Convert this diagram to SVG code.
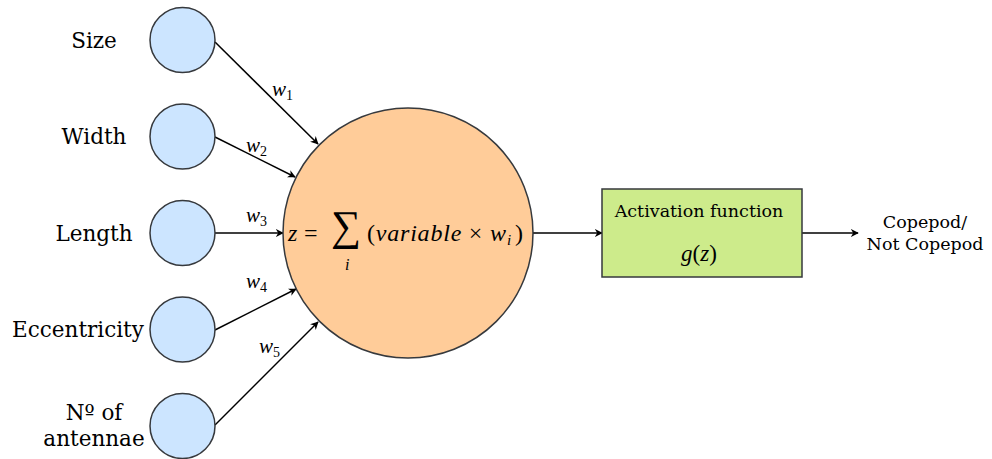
<svg xmlns="http://www.w3.org/2000/svg" width="992" height="459" viewBox="0 0 992 459">
<style>
.in{fill:#cce5ff;stroke:#36393d;stroke-width:1.5}
.lbl{font-family:"DejaVu Serif","Liberation Serif",serif;font-size:21.5px;fill:#000;text-anchor:middle}
.sm{font-family:"DejaVu Serif","Liberation Serif",serif;font-size:17.5px;fill:#000;text-anchor:middle}
.m{font-family:"Liberation Serif","DejaVu Serif",serif;font-style:italic;fill:#000}
.mr{font-family:"Liberation Serif","DejaVu Serif",serif;font-style:normal;fill:#000}
.c{stroke:#000;stroke-width:1.5;fill:none;marker-end:url(#ah)}
</style>
<defs>
<marker id="ah" viewBox="0 0 10 10" refX="9" refY="5" markerWidth="8" markerHeight="8" orient="auto" markerUnits="userSpaceOnUse">
<path d="M0,0 L10,5 L0,10 L3,5 Z" fill="#000"/>
</marker>
</defs>
<rect width="992" height="459" fill="#fff"/>
<g id="connectors">
<line class="c" x1="215" y1="42" x2="318" y2="144"/>
<line class="c" x1="215" y1="137" x2="295" y2="177"/>
<line class="c" x1="215" y1="233" x2="283" y2="233"/>
<line class="c" x1="215" y1="330" x2="296" y2="289"/>
<line class="c" x1="215" y1="425" x2="318" y2="322"/>
<line class="c" x1="533" y1="233" x2="602" y2="233"/>
<line class="c" x1="802" y1="233" x2="858" y2="233"/>
<text class="m" font-size="21" x="272" y="96">w<tspan class="mr" font-size="14" dy="4">1</tspan></text>
<text class="m" font-size="21" x="246" y="152">w<tspan class="mr" font-size="14" dy="4">2</tspan></text>
<text class="m" font-size="21" x="246" y="222">w<tspan class="mr" font-size="14" dy="4">3</tspan></text>
<text class="m" font-size="21" x="246" y="288">w<tspan class="mr" font-size="14" dy="4">4</tspan></text>
<text class="m" font-size="21" x="259" y="353">w<tspan class="mr" font-size="14" dy="4">5</tspan></text>
</g>
<g id="in-size"><circle class="in" cx="182.5" cy="40" r="32.5"/><text class="lbl" x="94" y="48">Size</text></g>
<g id="in-width"><circle class="in" cx="182.5" cy="136.5" r="32.5"/><text class="lbl" x="94" y="144">Width</text></g>
<g id="in-length"><circle class="in" cx="182.5" cy="233" r="32.5"/><text class="lbl" x="94" y="241">Length</text></g>
<g id="in-ecc"><circle class="in" cx="182.5" cy="329.5" r="32.5"/><text class="lbl" x="78" y="337">Eccentricity</text></g>
<g id="in-ant"><circle class="in" cx="182.5" cy="426" r="32.5"/><text class="lbl" x="94" y="420">Nº of</text><text class="lbl" x="94" y="446">antennae</text></g>
<g id="sum">
<circle cx="408" cy="233" r="125" fill="#ffcc99" stroke="#36393d" stroke-width="1.5"/>
<text class="m" font-size="24" x="288" y="241">z</text>
<text class="mr" font-size="24" x="304" y="241">=</text>
<text class="mr" font-size="42" x="331" y="240">∑</text>
<text class="m" font-size="16" x="345" y="270">i</text>
<text class="m" font-size="24" x="367" y="241" textLength="139"><tspan class="mr">(</tspan>variable <tspan class="mr">×</tspan> w</text>
<text class="m" font-size="15" x="507" y="245">i</text>
<text class="mr" font-size="24" x="515" y="241">)</text>
</g>
<g id="activation">
<rect x="602" y="189" width="200" height="88" fill="#cdeb8b" stroke="#36393d" stroke-width="1.5"/>
<text class="sm" x="699" y="217">Activation function</text>
<text class="m" font-size="23" x="699" y="261" text-anchor="middle">g<tspan class="mr">(</tspan>z<tspan class="mr">)</tspan></text>
</g>
<g id="output">
<text class="sm" x="925" y="228">Copepod/</text>
<text class="sm" x="925" y="250">Not Copepod</text>
</g>
</svg>
